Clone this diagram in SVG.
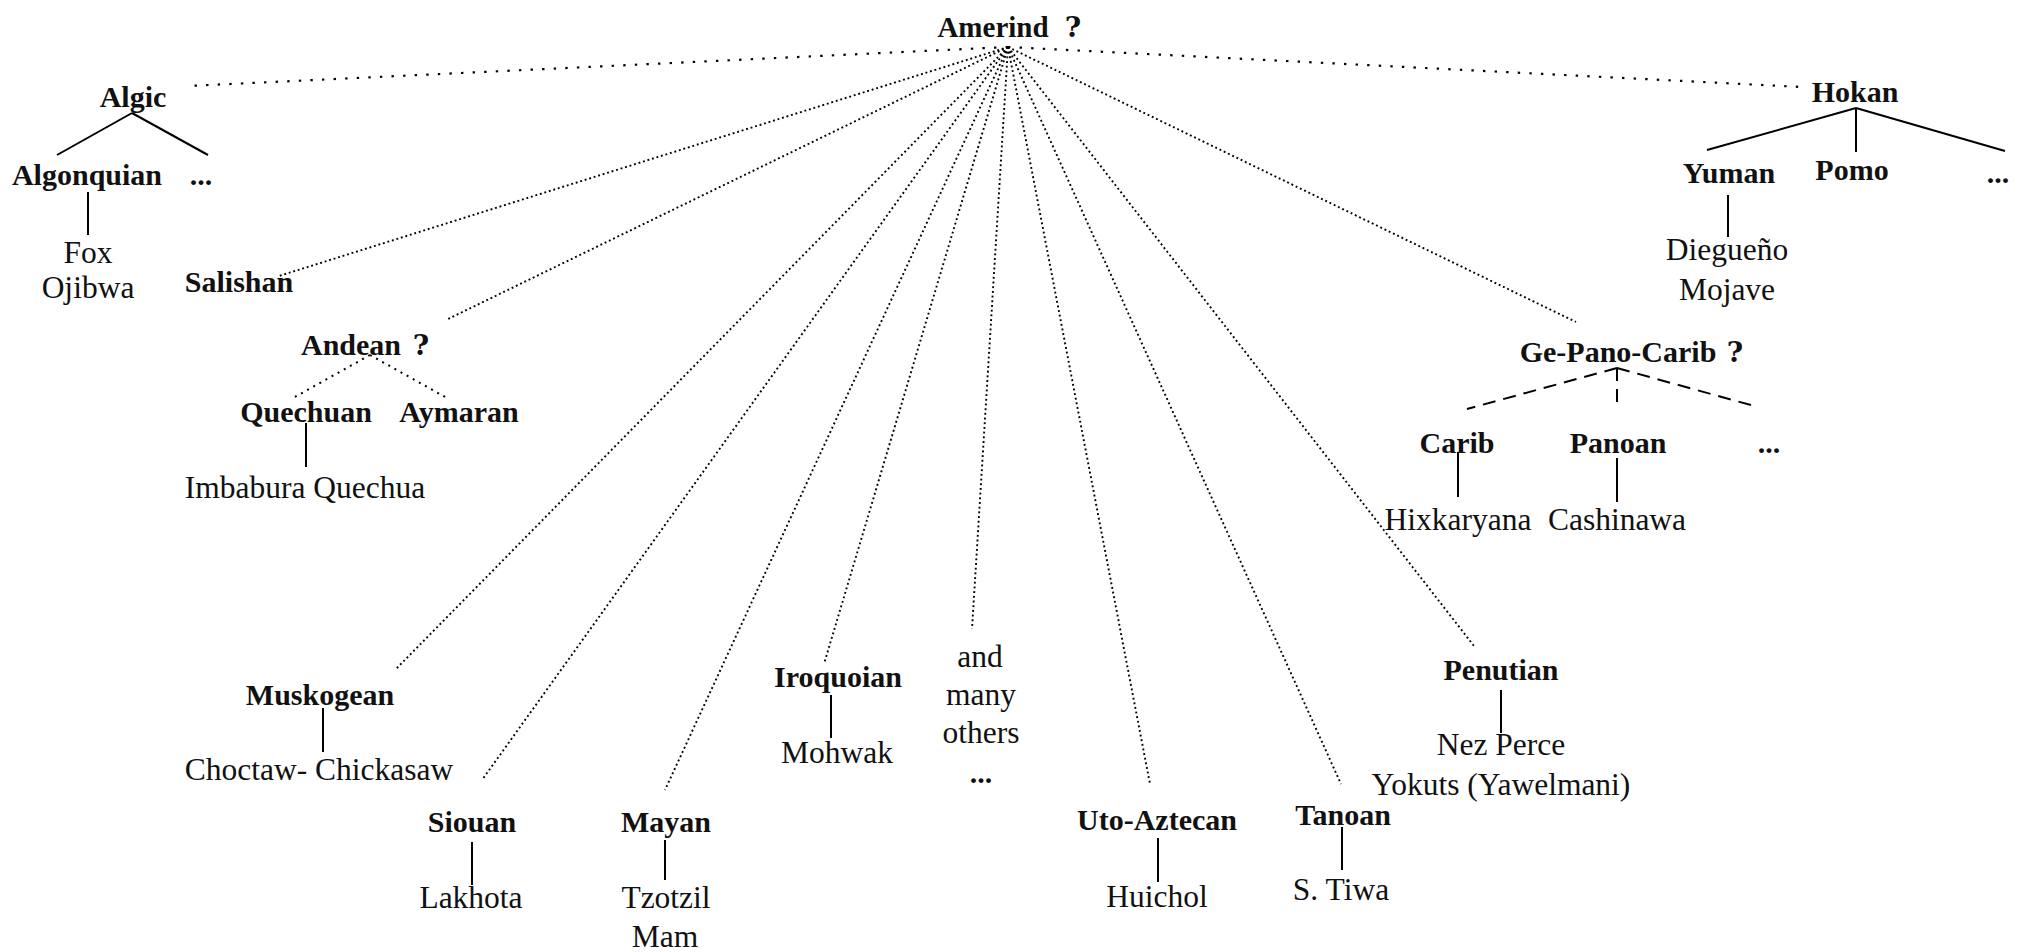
<svg xmlns="http://www.w3.org/2000/svg" width="2031" height="952" viewBox="0 0 2031 952">
  <style>
    text { font-family: "Liberation Serif", "DejaVu Serif", serif; fill: #111; text-anchor: middle; }
    .fam { font-weight: bold; font-size: 30px; }
    .lang { font-size: 31.5px; }
    .q { font-family: "DejaVu Serif", "Liberation Serif", serif; font-weight: bold; font-size: 28px; }
    .solid { stroke: #000; stroke-width: 2; fill: none; }
    .dash { stroke: #000; stroke-width: 2; fill: none; stroke-dasharray: 13 8; }
    .dot { stroke: #000; stroke-width: 1.9; fill: none; stroke-dasharray: 1.9 2.8; }
    .dot-mid { stroke: #000; stroke-width: 2; fill: none; stroke-dasharray: 2 5; }
    .dot-wide { stroke: #000; stroke-width: 2.2; fill: none; stroke-dasharray: 2.4 9.2; }
  </style>
  <rect width="2031" height="952" fill="#fff"/>

  <!-- links from the root to every stock -->
  <g id="connectors">
    <line class="dot-wide" x1="1008" y1="47" x2="188" y2="86"/>
    <line class="dot-wide" x1="1008" y1="47" x2="1802" y2="87"/>
    <line class="dot" x1="1008" y1="47" x2="279" y2="276"/>
    <line class="dot" x1="1008" y1="47" x2="446" y2="320"/>
    <line class="dot" x1="1008" y1="47" x2="395" y2="670"/>
    <line class="dot" x1="1008" y1="47" x2="482" y2="780"/>
    <line class="dot" x1="1008" y1="47" x2="665" y2="790"/>
    <line class="dot" x1="1008" y1="47" x2="824" y2="664"/>
    <line class="dot" x1="1008" y1="47" x2="972" y2="629"/>
    <line class="dot" x1="1008" y1="47" x2="1150" y2="784"/>
    <line class="dot" x1="1008" y1="47" x2="1341" y2="784"/>
    <line class="dot" x1="1008" y1="47" x2="1474" y2="646"/>
    <line class="dot" x1="1008" y1="47" x2="1576" y2="322"/>

    <!-- Algic subtree -->
    <line class="solid" x1="132" y1="113" x2="57" y2="155"/>
    <line class="solid" x1="132" y1="113" x2="208" y2="155"/>
    <line class="solid" x1="88" y1="192" x2="88" y2="235"/>

    <!-- Andean subtree -->
    <line class="dot-mid" x1="370" y1="355" x2="293" y2="398"/>
    <line class="dot-mid" x1="370" y1="355" x2="447" y2="398"/>
    <line class="solid" x1="306" y1="423" x2="306" y2="467"/>

    <!-- Hokan subtree -->
    <line class="solid" x1="1856" y1="108" x2="1707" y2="150"/>
    <line class="solid" x1="1856" y1="108" x2="1856" y2="152"/>
    <line class="solid" x1="1856" y1="108" x2="2005" y2="151"/>
    <line class="solid" x1="1728" y1="195" x2="1728" y2="237"/>

    <!-- Ge-Pano-Carib subtree -->
    <line class="dash" x1="1617" y1="368" x2="1467" y2="409"/>
    <line class="dash" x1="1617" y1="368" x2="1617" y2="403"/>
    <line class="dash" x1="1617" y1="368" x2="1758" y2="407"/>
    <line class="solid" x1="1458" y1="452" x2="1458" y2="497"/>
    <line class="solid" x1="1617" y1="458" x2="1617" y2="502"/>

    <!-- single-language links -->
    <line class="solid" x1="323" y1="708" x2="323" y2="752"/>
    <line class="solid" x1="472" y1="842" x2="472" y2="885"/>
    <line class="solid" x1="665" y1="840" x2="665" y2="880"/>
    <line class="solid" x1="831" y1="695" x2="831" y2="738"/>
    <line class="solid" x1="1158" y1="838" x2="1158" y2="882"/>
    <line class="solid" x1="1342" y1="827" x2="1342" y2="870"/>
    <line class="solid" x1="1501" y1="690" x2="1501" y2="733"/>
  </g>

  <g id="amerind">
    <text class="fam" x="993" y="37" style="font-size:29px">Amerind</text>
    <text class="q" x="1073" y="37">?</text>
  </g>

  <g id="algic">
    <text class="fam" x="133" y="107">Algic</text>
    <text class="fam" x="87" y="185">Algonquian</text>
    <text class="fam" x="201" y="185">...</text>
    <text class="lang" x="88" y="263">Fox</text>
    <text class="lang" x="88" y="298">Ojibwa</text>
  </g>

  <g id="salishan">
    <text class="fam" x="239" y="292">Salishan</text>
  </g>

  <g id="andean">
    <text class="fam" x="351" y="355">Andean</text>
    <text class="q" x="421" y="355">?</text>
    <text class="fam" x="306" y="422">Quechuan</text>
    <text class="fam" x="459" y="422">Aymaran</text>
    <text class="lang" x="305" y="498">Imbabura Quechua</text>
  </g>

  <g id="hokan">
    <text class="fam" x="1855" y="102">Hokan</text>
    <text class="fam" x="1729" y="183">Yuman</text>
    <text class="fam" x="1852" y="180">Pomo</text>
    <text class="fam" x="1998" y="183">...</text>
    <text class="lang" x="1727" y="260">Diegueño</text>
    <text class="lang" x="1727" y="300">Mojave</text>
  </g>

  <g id="ge-pano-carib">
    <text class="fam" x="1618" y="362">Ge-Pano-Carib</text>
    <text class="q" x="1735" y="362">?</text>
    <text class="fam" x="1457" y="453">Carib</text>
    <text class="fam" x="1618" y="453">Panoan</text>
    <text class="fam" x="1769" y="453">...</text>
    <text class="lang" x="1458" y="530">Hixkaryana</text>
    <text class="lang" x="1617" y="530">Cashinawa</text>
  </g>

  <g id="muskogean">
    <text class="fam" x="320" y="705">Muskogean</text>
    <text class="lang" x="319" y="780">Choctaw- Chickasaw</text>
  </g>

  <g id="siouan">
    <text class="fam" x="472" y="832">Siouan</text>
    <text class="lang" x="471" y="908">Lakhota</text>
  </g>

  <g id="mayan">
    <text class="fam" x="666" y="832">Mayan</text>
    <text class="lang" x="666" y="908">Tzotzil</text>
    <text class="lang" x="665" y="947">Mam</text>
  </g>

  <g id="iroquoian">
    <text class="fam" x="838" y="687">Iroquoian</text>
    <text class="lang" x="837" y="763">Mohwak</text>
  </g>

  <g id="others">
    <text class="lang" x="980" y="667">and</text>
    <text class="lang" x="981" y="705">many</text>
    <text class="lang" x="981" y="743">others</text>
    <text class="fam" x="981" y="783">...</text>
  </g>

  <g id="uto-aztecan">
    <text class="fam" x="1157" y="830">Uto-Aztecan</text>
    <text class="lang" x="1157" y="907">Huichol</text>
  </g>

  <g id="tanoan">
    <text class="fam" x="1343" y="825">Tanoan</text>
    <text class="lang" x="1341" y="900">S. Tiwa</text>
  </g>

  <g id="penutian">
    <text class="fam" x="1501" y="680">Penutian</text>
    <text class="lang" x="1501" y="755">Nez Perce</text>
    <text class="lang" x="1501" y="795">Yokuts (Yawelmani)</text>
  </g>
</svg>
